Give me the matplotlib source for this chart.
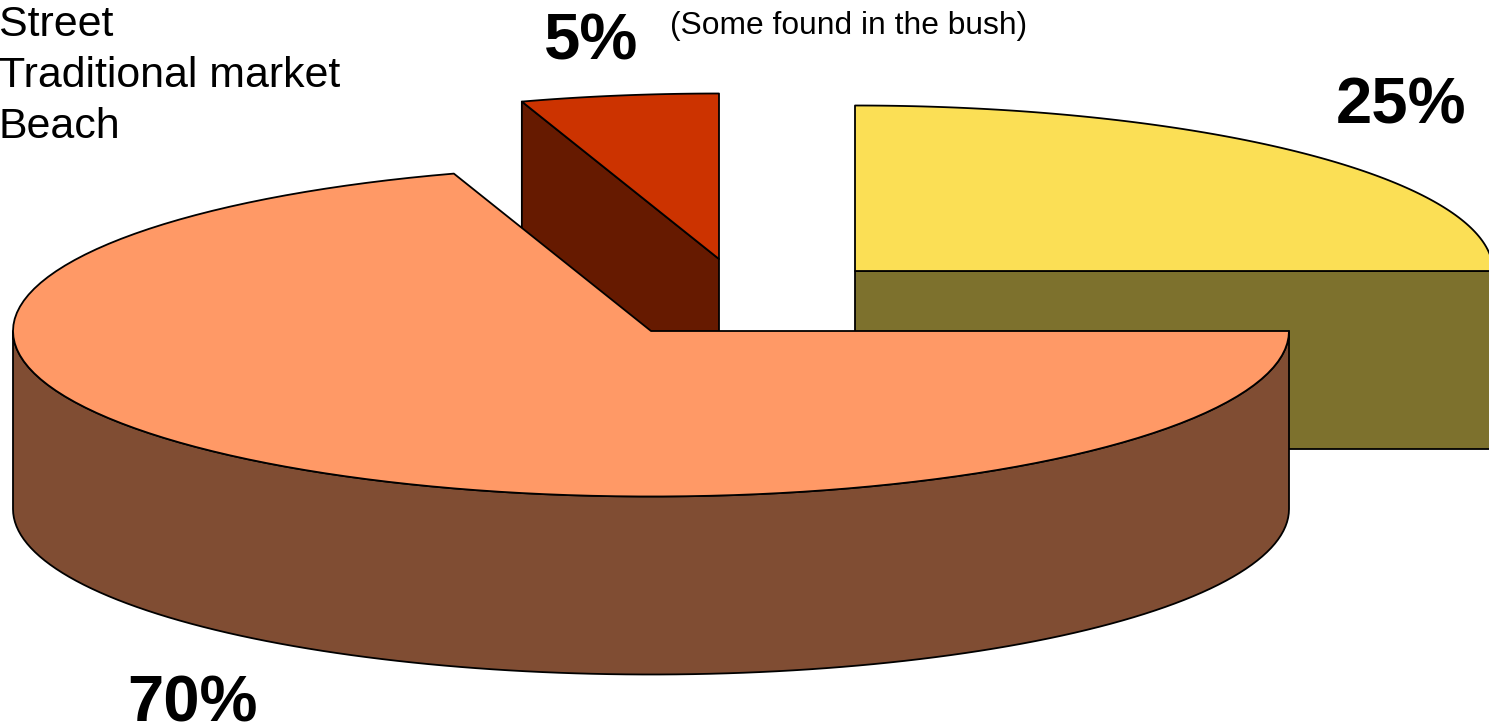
import numpy as np
from matplotlib import pyplot as plt
from matplotlib.patches import Polygon

plt.rcParams['font.family'] = ['Liberation Sans', 'DejaVu Sans']

# clockwise from 12 o'clock, as the pie is drawn
categories = ['Street', 'Traditional market', 'Beach']
shares = [25, 70, 5]
share_labels = ['25%', '70%', '5%']
note = '(Some found in the bush)'

top_colors = ['#FBDF55', '#FF9966', '#CC3300']
side_colors = ['#7D712D', '#804D33', '#661A00']

# pie centre of each slice in pixels (exploded), radii and thickness
centers = [(855, 271), (651, 331), (719, 259)]
RX = 638
RY = 165.5
DEPTH = 178
LW = 1.3
DPI = 100


def arc(center, t0, t1, n=120):
    t = np.radians(np.linspace(t0, t1, n))
    return np.column_stack((center[0] + RX * np.cos(t),
                            center[1] - RY * np.sin(t)))


def cut_face_visible(t, mid):
    # the wall along radius t shows when the slice lies above that radius on screen
    c = np.cos(np.radians(t))
    if abs(c) < 1e-6:
        return False
    s = np.sin(np.radians(t))
    mx, my = np.cos(np.radians(mid)), np.sin(np.radians(mid))
    return my > s * mx / c


def draw_slice(ax, center, t0, t1, top, side, z):
    # t0 > t1, the slice runs clockwise
    def add(pts, c, dz):
        ax.add_patch(Polygon(pts, closed=True, fc=c, ec='black', lw=LW,
                             zorder=z + dz, joinstyle='round'))

    drop = np.array([0, DEPTH])
    apex = np.array(center, dtype=float)
    mid = (t0 + t1) / 2

    # curved outer wall, only the part facing the viewer
    lo, hi = max(t1, -180), min(t0, 0)
    if lo < hi:
        rim = arc(center, hi, lo)
        add(np.vstack((rim, rim[::-1] + drop)), side, 0)
    for t in (t0, t1):
        if cut_face_visible(t, mid):
            p = arc(center, t, t, 1)[0]
            add(np.vstack((apex, p, p + drop, apex + drop)), side, 0.5)
    add(np.vstack((apex, arc(center, t0, t1))), top, 1)


fig = plt.figure(figsize=(14.89, 7.26), dpi=DPI)
ax = fig.add_axes([0, 0, 1, 1])
ax.set_xlim(0, 1489)
ax.set_ylim(726, 0)
ax.axis('off')

# back to front: 25%, 5%, 70%
edges = 90 - np.cumsum([0] + shares) * 3.6
z_order = [1, 3, 2]
for i in range(len(shares)):
    draw_slice(ax, centers[i], edges[i], edges[i + 1],
               top_colors[i], side_colors[i], z_order[i] * 10)

for y, name in zip([36, 87, 138], categories):
    ax.text(-1, y, name, fontsize=30.9, va='baseline', ha='left', color='black', zorder=50)

label_pos = [(1401, 123), (193, 722), (591.5, 59)]
for (x, y), s in zip(label_pos, share_labels):
    ax.text(x, y, s, fontsize=47, fontweight='bold', va='baseline', ha='center',
            color='black', zorder=50)
ax.text(670, 34, note, fontsize=22.9, va='baseline', ha='left', color='black', zorder=50)

fig.savefig('out.png', dpi=DPI, facecolor='white')
